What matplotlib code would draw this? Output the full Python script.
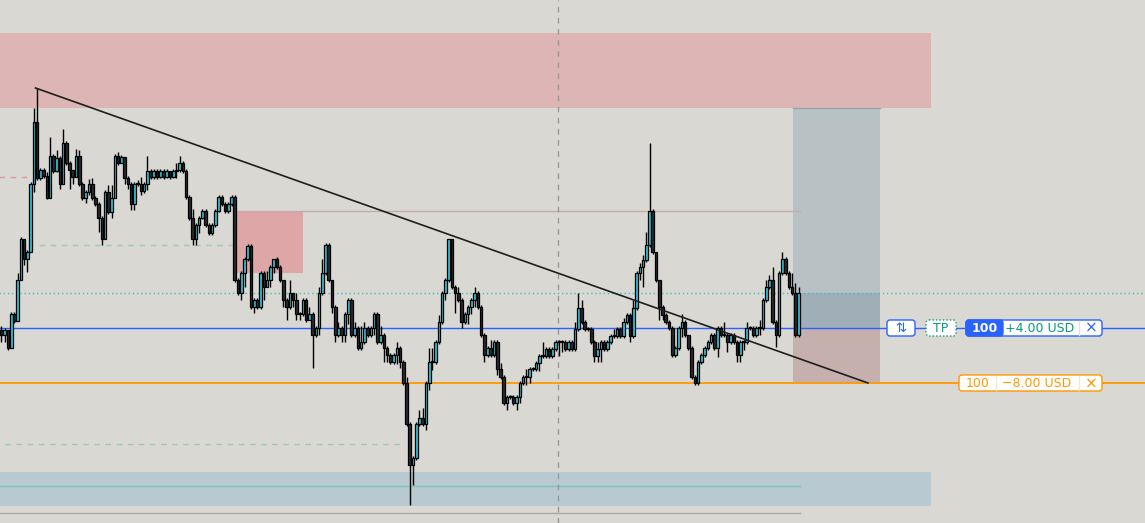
import numpy as np
import matplotlib
matplotlib.use('Agg')
import matplotlib.pyplot as plt
from matplotlib.patches import Rectangle, FancyBboxPatch

# candle data (price units), open of each candle = previous close
first_open = 270
closes = [265, 270, 252, 286, 279, 320, 361, 341, 348, 416, 478, 422, 430, 424, 402, 444, 429, 442, 416, 457,
          437, 430, 423, 444, 416, 402, 408, 416, 402, 396, 382, 361, 408, 388, 402, 444, 437, 443, 422, 416,
          396, 416, 416, 409, 416, 429, 423, 429, 423, 429, 423, 429, 423, 429, 430, 437, 429, 403, 382, 361,
          375, 382, 389, 375, 367, 375, 389, 403, 396, 389, 396, 403, 320, 307, 327, 341, 354, 293, 300, 293,
          327, 313, 320, 333, 341, 333, 320, 300, 293, 307, 300, 286, 286, 300, 280, 286, 265, 272, 307, 327,
          355, 320, 293, 265, 272, 265, 286, 300, 265, 272, 252, 258, 272, 265, 272, 286, 258, 265, 252, 245,
          238, 245, 252, 238, 217, 176, 135, 142, 176, 182, 176, 217, 238, 238, 258, 278, 307, 320, 361, 313,
          307, 300, 278, 286, 293, 300, 307, 293, 265, 245, 252, 245, 258, 231, 223, 197, 203, 203, 197, 203,
          217, 223, 223, 231, 231, 237, 244, 244, 251, 244, 251, 258, 258, 258, 251, 258, 251, 271, 292, 278,
          271, 271, 258, 244, 251, 258, 251, 258, 264, 264, 271, 264, 278, 285, 264, 292, 327, 333, 340, 355,
          389, 348, 320, 293, 285, 278, 272, 245, 252, 272, 278, 265, 252, 223, 217, 238, 245, 252, 258, 265,
          252, 272, 265, 265, 258, 265, 258, 245, 258, 258, 272, 272, 265, 272, 272, 300, 313, 320, 278, 265,
          327, 341, 327, 313, 307, 265, 307]
highs = [274, 272, 270, 288, 288, 327, 363, 361, 350, 418, 492, 512, 432, 432, 428, 463, 446, 450, 444, 471,
         459, 439, 430, 451, 450, 418, 410, 421, 422, 404, 398, 384, 410, 415, 415, 446, 448, 445, 443, 424,
         418, 418, 420, 423, 418, 444, 431, 431, 431, 431, 431, 431, 425, 431, 437, 444, 439, 431, 405, 391,
         377, 384, 391, 391, 377, 377, 391, 405, 405, 398, 398, 405, 405, 322, 329, 343, 356, 356, 302, 302,
         329, 329, 329, 335, 341, 343, 335, 320, 302, 320, 307, 307, 288, 302, 302, 293, 288, 274, 313, 341,
         357, 357, 320, 295, 278, 274, 288, 302, 302, 278, 274, 274, 278, 274, 274, 288, 288, 274, 267, 254,
         247, 247, 258, 254, 240, 223, 178, 144, 178, 190, 192, 219, 252, 252, 260, 285, 309, 322, 361, 361,
         315, 313, 302, 288, 295, 302, 313, 309, 295, 267, 254, 260, 260, 260, 237, 225, 205, 205, 205, 205,
         219, 225, 231, 233, 233, 239, 246, 258, 253, 253, 253, 260, 260, 260, 260, 260, 260, 278, 307, 300,
         280, 273, 273, 260, 258, 260, 260, 260, 266, 271, 273, 273, 282, 287, 287, 300, 329, 337, 345, 368,
         457, 391, 348, 320, 295, 287, 280, 274, 254, 274, 286, 280, 265, 254, 225, 240, 247, 254, 260, 267,
         267, 274, 274, 278, 267, 267, 267, 260, 260, 260, 278, 274, 274, 274, 280, 302, 320, 325, 333, 280,
         329, 348, 343, 329, 327, 317, 313]
lows = [258, 258, 250, 252, 277, 279, 320, 335, 328, 348, 408, 420, 420, 422, 401, 402, 427, 428, 411, 416,
        435, 411, 416, 423, 414, 400, 397, 405, 400, 394, 368, 355, 361, 386, 382, 402, 435, 437, 416, 411,
        390, 390, 414, 405, 407, 410, 421, 421, 421, 422, 421, 422, 421, 422, 422, 428, 427, 401, 380, 355,
        355, 367, 381, 373, 365, 365, 373, 388, 394, 387, 387, 394, 318, 305, 300, 313, 339, 291, 287, 291,
        291, 300, 313, 313, 327, 331, 318, 293, 280, 291, 293, 280, 280, 284, 278, 280, 232, 263, 265, 305,
        325, 318, 287, 258, 263, 258, 258, 276, 263, 263, 250, 250, 256, 263, 263, 265, 256, 256, 238, 238,
        236, 236, 236, 232, 215, 174, 95, 115, 140, 174, 174, 170, 210, 230, 236, 256, 276, 300, 318, 311,
        287, 298, 272, 276, 276, 286, 293, 291, 263, 238, 243, 243, 243, 225, 221, 195, 190, 201, 195, 190,
        197, 215, 215, 217, 229, 229, 229, 242, 242, 242, 242, 249, 244, 248, 249, 249, 249, 249, 269, 276,
        269, 269, 256, 238, 238, 238, 249, 249, 256, 262, 262, 262, 262, 276, 258, 262, 290, 320, 313, 338,
        353, 346, 318, 280, 280, 276, 270, 243, 243, 250, 263, 263, 250, 221, 215, 215, 236, 243, 250, 256,
        250, 243, 263, 263, 248, 256, 256, 238, 238, 250, 256, 270, 263, 263, 265, 270, 298, 311, 276, 253,
        263, 325, 325, 311, 305, 263, 263]

# drawn levels
supply_zone = (492, 567)
demand_zone = (94, 128)
demand_mid = 114
bottom_line = 87
ob_box = (327, 389)
ob_line = 389
tp_dotted = 307
entry = 272
stop = 217
target = 492
old_high = 423
mid_level = 355
low_level = 156
trend = [(10.5, 512), (267.4, 217)]

BG = '#d9d8d3'
BULL = '#2ec4d8'
BEAR = '#2b2b30'
BLUE = '#2962ff'
ORANGE = '#ff9800'
TEAL = '#089981'

fig = plt.figure(figsize=(11.45, 5.23), dpi=100, facecolor=BG)
ax = fig.add_axes([0, 0, 1, 1])
ax.set_facecolor(BG)
n = len(closes)
ax.set_xlim(-0.46, 352.9)
ax.set_ylim(77, 600)
ax.axis('off')

x_end = 246.4  # right edge of drawings on candles
x_zone = 286.9

ax.add_patch(Rectangle((-1, supply_zone[0]), x_zone + 1, supply_zone[1] - supply_zone[0],
                       facecolor='#dcb5b4', edgecolor='none', zorder=0))
ax.add_patch(Rectangle((-1, demand_zone[0]), x_zone + 1, demand_zone[1] - demand_zone[0],
                       facecolor='#b8c9d1', edgecolor='none', zorder=0))
ax.plot([-1, x_end], [demand_mid] * 2, color='#7cc4c0', lw=1, zorder=1)
ax.plot([-1, x_end], [bottom_line] * 2, color='#a9a9a6', lw=1, zorder=1)
ax.add_patch(Rectangle((71.5, ob_box[0]), 21.6, ob_box[1] - ob_box[0],
                       facecolor='#dea6a7', edgecolor='none', zorder=0))
ax.plot([71.5, x_end], [ob_line] * 2, color='#c9a9aa', lw=1, zorder=1)

# position tool
ax.add_patch(Rectangle((244.3, tp_dotted), 26.8, target - tp_dotted,
                       facecolor='#b8c1c3', edgecolor='none', zorder=0))
ax.add_patch(Rectangle((244.3, entry), 26.8, tp_dotted - entry,
                       facecolor='#a0aeb7', edgecolor='none', zorder=0))
ax.add_patch(Rectangle((244.3, stop), 26.8, entry - stop,
                       facecolor='#c5b0ae', edgecolor='none', zorder=0))
ax.plot([244.3, 271.1], [target] * 2, color='#9aa5ab', lw=1, zorder=1)

ax.plot([-1, 360], [tp_dotted] * 2, color='#3cc0c6', lw=1, ls=(0, (1, 2)), zorder=1)
ax.plot([-1, 7.9], [old_high] * 2, color='#dc9a9c', lw=1, ls=(0, (4, 4)), zorder=1)
ax.plot([8.2, 71.5], [mid_level] * 2, color='#9fc6bb', lw=1, ls=(0, (4, 4)), zorder=1)
ax.plot([1.1, 124.5], [low_level] * 2, color='#9fc6bb', lw=1, ls=(0, (4, 4)), zorder=1)
ax.axvline(171.8, color='#9a9a9a', lw=1, ls=(0, (4, 4)), zorder=1)

ax.plot([-1, 360], [entry] * 2, color=BLUE, lw=1, zorder=1)
ax.plot([-1, 360], [stop] * 2, color=ORANGE, lw=1.3, zorder=1)

# candles
opens = [first_open] + closes[:-1]
xs = np.arange(n)
o = np.array(opens, float)
c = np.array(closes, float)
h = np.array(highs, float)
l = np.array(lows, float)
top = np.maximum(o, c)
bot = np.minimum(o, c)
ax.vlines(xs, np.minimum(l, bot), np.maximum(h, top), color='black', lw=1, zorder=3)
bull = c > o
body_h = np.maximum(top - bot, 1.0)
ax.bar(xs, body_h, bottom=bot, width=0.8,
       color=np.where(bull, BULL, BEAR), edgecolor='black', linewidth=0.9, zorder=4)

(tx0, ty0), (tx1, ty1) = trend
ax.plot([tx0, tx1], [ty0, ty1], color='#1e1e1e', lw=1.2, zorder=5)

# order labels, drawn in pixel coordinates
ui = fig.add_axes([0, 0, 1, 1])
ui.set_xlim(0, 1145)
ui.set_ylim(523, 0)
ui.axis('off')
ui.patch.set_alpha(0)


def tag(x0, x1, y0, y1, **kw):
    p = FancyBboxPatch((x0, y0), x1 - x0, y1 - y0, boxstyle='round,pad=0,rounding_size=3', **kw)
    ui.add_patch(p)


tag(887, 915, 320, 336, facecolor='white', edgecolor=BLUE, lw=1)
ui.text(901, 328.5, '\u21c5', color=BLUE, ha='center', va='center', fontsize=9.5)
tag(926, 956, 320, 336, facecolor='white', edgecolor=TEAL, lw=1, ls=(0, (1, 1.5)))
ui.text(941, 328.5, 'TP', color=TEAL, ha='center', va='center', fontsize=9)

tag(966, 1102, 320, 336, facecolor='white', edgecolor=BLUE, lw=1)
tag(966, 1003, 320, 336, facecolor=BLUE, edgecolor=BLUE, lw=1)
ui.add_patch(Rectangle((995, 320), 8, 16, facecolor=BLUE, edgecolor='none'))
ui.text(984.5, 328.5, '100', color='white', ha='center', va='center', fontsize=9, fontweight='bold')
ui.text(1040, 328.5, '+4.00 USD', color=TEAL, ha='center', va='center', fontsize=9)
ui.plot([1079, 1079], [321, 335], color='#dde4f5', lw=1)
ui.text(1091, 328.5, '\u00d7', color=BLUE, ha='center', va='center', fontsize=11)

tag(959, 1102, 375, 391, facecolor='white', edgecolor=ORANGE, lw=1)
ui.plot([996, 996], [376, 390], color='#fbe6c8', lw=1)
ui.plot([1079, 1079], [376, 390], color='#fbe6c8', lw=1)
ui.text(977.5, 383.5, '100', color=ORANGE, ha='center', va='center', fontsize=9)
ui.text(1037, 383.5, '\u22128.00 USD', color=ORANGE, ha='center', va='center', fontsize=9)
ui.text(1091, 383.5, '\u00d7', color=ORANGE, ha='center', va='center', fontsize=11)

fig.savefig('out.png', dpi=100, facecolor=BG)
